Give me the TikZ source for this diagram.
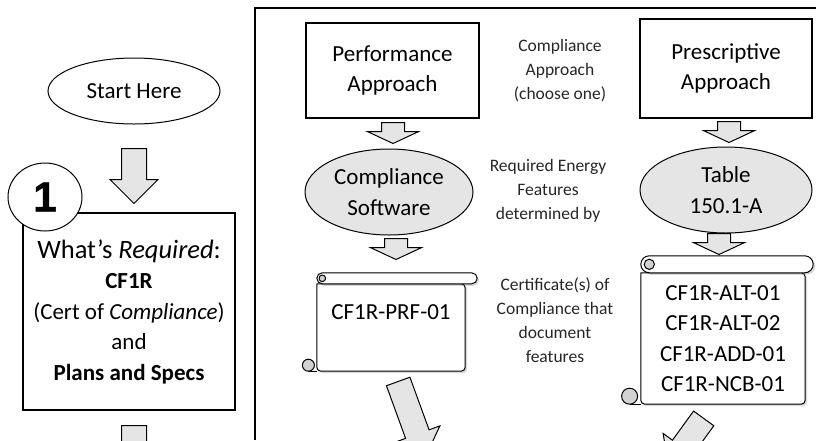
\documentclass[tikz,border=0pt]{standalone}
\usepackage{fontspec}
\setmainfont{Carlito}
\newfontfamily\numfont{Liberation Sans Bold}[FakeBold=1.2]
\usetikzlibrary{positioning,calc,shapes.arrows,shapes.geometric,shadows}

\newcommand\bodyfont{\fontsize{23}{30.5}\selectfont}
\newcommand\bigfont{\fontsize{26.5}{30}\selectfont}
\newcommand\notefont{\fontsize{17.5}{24}\selectfont}

\tikzset{
  box/.style={draw, line width=1.3pt, inner sep=0pt, align=center, font=\bodyfont},
  oval/.style={draw, ellipse, line width=1pt, inner sep=0pt, align=center, font=\bodyfont},
  grayoval/.style={oval, fill=gray!20},
  note/.style={align=center, font=\notefont, text=black!85},
  blockarrow/.style={single arrow, draw, fill=gray!20, line width=1pt, inner sep=0pt,
    text height=24pt, text depth=0pt, single arrow head extend=11.5pt, anchor=tail},
  smallarrow/.style={blockarrow, text height=22pt, single arrow head extend=14pt,
    single arrow tip angle=130, minimum height=21pt},
  scrollline/.style={draw, line width=1pt, line join=round},
}

% scroll around a body node: #1 node, #2 roll height, #3 overhang, #4 curl radius
\newcommand\scrollshape[4]{
  \draw[scrollline, fill=white, drop shadow={opacity=.3, shadow xshift=2pt, shadow yshift=-2pt}]
    (#1.north west) [rounded corners=4pt] -- (#1.south west) -- (#1.south east) -- (#1.north east) [sharp corners] -- cycle;
  \draw[scrollline, fill=white, rounded corners=0.5*#2, drop shadow={opacity=.3, shadow xshift=2pt, shadow yshift=-2pt}]
    ($(#1.north west)+(0,-#2)$) rectangle ($(#1.north east)+(#3,0)$);
  \draw[scrollline, fill=gray!35] ($(#1.north west)+(0.5*#2,-0.5*#2)$) circle [radius=0.3*#2];
  \coordinate (#1curl) at ($(#1.south west)+(-1.4*#4,-#4)$);
  \draw[scrollline] ($(#1curl)+(0,#4)$) -- (#1.south west);
  \draw[scrollline, fill=gray!35] (#1curl) circle [radius=#4];
}

\begin{document}
\begin{tikzpicture}[x=1pt, y=-1pt]
\useasboundingbox (0,0) rectangle (816,440);
\clip (0,0) rectangle (816,440);

% left column
\node[oval, minimum width=172pt, minimum height=66pt] (start) at (134,91) {Start Here};
\node[blockarrow, minimum height=55pt, rotate=-90] (a0) at (134,148) {};
\node[box, line width=1.5pt, minimum width=212pt, minimum height=197pt] (req) at (129,311.5)
  {{\bigfont What's \emph{Required}:}\\ \textbf{CF1R}\\ (Cert of \emph{Compliance})\\ and\\ \textbf{Plans and Specs}};
\node[oval, fill=white, minimum width=74pt, minimum height=68pt] (num) at (45,197)
  {\raisebox{-5pt}{\numfont\fontsize{42}{42}\selectfont 1}};
\node[blockarrow, minimum height=55pt, rotate=-90] (a1) at (134,425) {};

% frame of the approaches
\draw[line width=1.5pt] (255,440) -- (255,8) -- (816,8);

% performance approach
\node[box, minimum width=173pt, minimum height=95pt] (perf) at (392.5,70.5) {Performance\\Approach};
\node[smallarrow, rotate=-90] (a2) at (393,122) {};
\node[grayoval, minimum width=168pt, minimum height=86pt] (soft) at (389,192) {Compliance\\Software};
\node[smallarrow, rotate=-90] (a4) at (396,238) {};
\node[minimum width=148pt, minimum height=87pt, inner sep=0pt] (prf) at (391,327.5) {};
\scrollshape{prf}{11}{12}{6}
\node[font=\bodyfont] (prftext) at ($(prf.north)+(0,28)$) {CF1R-PRF-01};
\node[blockarrow, minimum height=80pt, rotate=-70] (a6) at (398,381) {};

% notes in the middle
\node[note] (choose) at (560,71) {Compliance\\Approach\\(choose one)};
\node[note] (feat) at (548,191) {Required Energy\\Features\\determined by};
\node[note] (cert) at (555,320) {Certificate(s) of\\Compliance that\\document\\features};

% prescriptive approach
\node[box, minimum width=172pt, minimum height=99pt] (presc) at (726,68.5) {Prescriptive\\Approach};
\node[smallarrow, rotate=-90] (a3) at (729,121) {};
\node[grayoval, minimum width=172pt, minimum height=86pt] (table) at (726,190) {Table\\150.1-A};
\node[smallarrow, rotate=-90] (a5) at (719,233) {};
\node[minimum width=164pt, minimum height=131pt, inner sep=0pt] (alt) at (723,338.5) {};
\scrollshape{alt}{17}{8}{8}
\node[font=\bodyfont, align=center] (alttext) at (alt.center) {CF1R-ALT-01\\CF1R-ALT-02\\CF1R-ADD-01\\CF1R-NCB-01};
\node[blockarrow, minimum height=60pt, rotate=-126] (a7) at (704,418) {};
\end{tikzpicture}
\end{document}
